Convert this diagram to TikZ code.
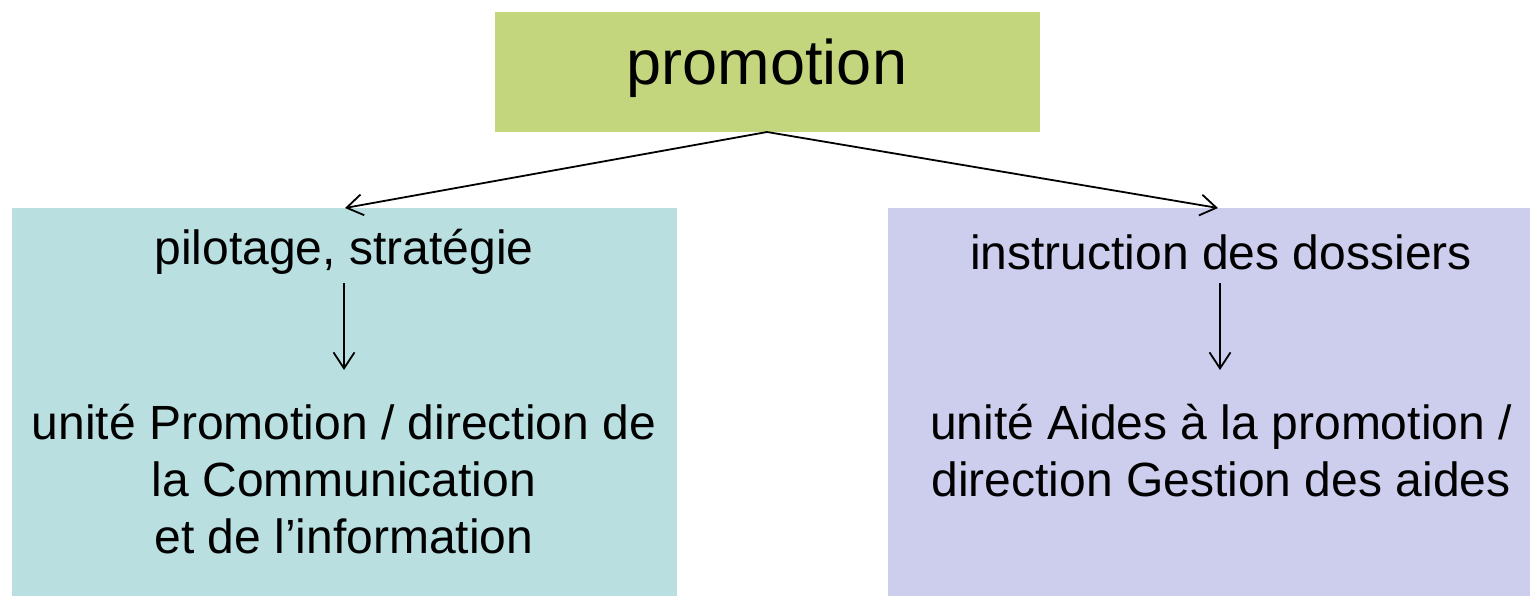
\documentclass[tikz,border=0pt]{standalone}
\usepackage{fontspec}
\setmainfont{Liberation Sans}
\usetikzlibrary{arrows.meta}
\definecolor{cgreen}{RGB}{195,214,126}
\definecolor{cteal}{RGB}{185,223,225}
\definecolor{clav}{RGB}{205,205,237}
\tikzset{
  box/.style={draw=none,inner sep=0pt,outer sep=0pt,anchor=north west},
  lbl/.style={inner sep=0pt,align=center,font=\fontsize{48}{57}\selectfont},
  conn/.style={line width=1.8pt,-{Straight Barb[length=16pt,width=21pt,line width=1.8pt]}}
}
\begin{document}
\begin{tikzpicture}[x=1pt,y=-1pt]
\useasboundingbox (0,0) rectangle (1530,596);
\node[box,fill=cgreen,minimum width=545pt,minimum height=120pt] (top) at (495,12) {};
\node[box,fill=cteal,minimum width=665pt,minimum height=388pt] (lbox) at (12,208) {};
\node[box,fill=clav,minimum width=642pt,minimum height=388pt] (rbox) at (888,208) {};
\node[inner sep=0pt,font=\fontsize{63}{70}\selectfont] (ttl) at (767,68) {promotion};
\node[lbl] (l1) at (344,252) {pilotage, stratégie};
\node[lbl,anchor=north] (l2) at (344,404) {unité Promotion / direction de\\la Communication\\et de l’information};
\node[lbl] (r1) at (1221,252) {instruction des dossiers};
\node[lbl,anchor=north] (r2) at (1221,404) {unité Aides à la promotion /\\direction Gestion des aides};
\coordinate (lt) at (345,208);
\coordinate (rt) at (1218,208);
\coordinate (topb) at (767,132);
\draw[conn] (topb) -- (lt);
\draw[conn] (topb) -- (rt);
\draw[conn] (344,283) coordinate (la) -- (344,370) coordinate (lb);
\draw[conn] (1220,283) coordinate (ra) -- (1220,370) coordinate (rb);
\end{tikzpicture}
\end{document}
